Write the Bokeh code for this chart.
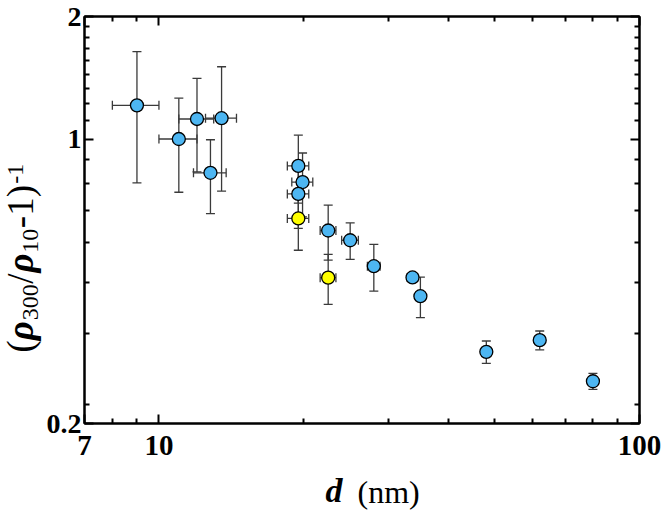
from bokeh.plotting import figure
from bokeh.layouts import row, column
from bokeh.models import (ColumnDataSource, Whisker, TeeHead, LogAxis, FixedTicker,
                          Label, Range1d)
from bokeh.embed import file_html
from bokeh.resources import INLINE

# ---- data ----
d_blue = [9.0, 11.0, 12.0, 13.5, 12.8, 19.5, 19.9, 19.5, 22.5, 25.0, 28.0, 33.7, 35.0, 48.0, 62.0, 80.0]
d_err_blue = [1.0, 1.0, 1.0, 1.0, 1.0, 1.0, 1.0, 1.0, 0.85, 1.0, 0.85, 0.85, 0.7, 0.0, 0.0, 0.0]
r_blue = [1.21, 1.0, 1.12, 1.125, 0.826, 0.859, 0.784, 0.733, 0.596, 0.564, 0.487, 0.457, 0.411, 0.300, 0.3205, 0.254]
r_err_blue = [0.43, 0.26, 0.29, 0.38, 0.17, 0.163, 0.14, 0.13, 0.092, 0.058, 0.064, 0.008, 0.047, 0.019, 0.017, 0.0115]

d_yellow = [19.5, 22.5]
d_err_yellow = [1.0, 0.85]
r_yellow = [0.638, 0.4565]
r_err_yellow = [0.105, 0.064]

x_major = [7, 10, 100]
x_major_labels = ["7", "10", "100"]
x_minor = [8, 9, 20, 30, 40, 50, 60, 70, 80, 90]
y_major = [0.2, 1, 2]
y_major_labels = ["0.2", "1", "2"]
y_minor = [1 - k / 9 for k in range(1, 8)] + [1 + k / 9 for k in range(1, 9)]

BLUE = "#4db6f2"
YELLOW = "#ffff00"
ERR = "#3a3a3a"
FONT = "Liberation Serif"

W_LEFT = 43
H_TOP = 470
H_BOTTOM = 43
FRAME_LEFT_PAGE = 81
FRAME_BOTTOM_PAGE = 423  # bottom of the plotting frame, page pixels

p = figure(width=666 - W_LEFT, height=H_TOP, x_axis_type="log", y_axis_type="log",
           x_range=Range1d(7, 100), y_range=Range1d(0.2, 2),
           output_backend="svg", toolbar_location=None,
           min_border_left=FRAME_LEFT_PAGE - W_LEFT, min_border_right=27, min_border_top=16,
           min_border_bottom=H_TOP - FRAME_BOTTOM_PAGE)
p.grid.visible = False
p.outline_line_color = "black"
p.outline_line_width = 2
p.background_fill_color = "white"
p.border_fill_color = "white"

xt = FixedTicker(ticks=x_major, minor_ticks=x_minor)
yt = FixedTicker(ticks=y_major, minor_ticks=y_minor)


def style_axis(ax, size="29px"):
    ax.axis_line_width = 2
    ax.axis_line_color = "black"
    ax.major_tick_in = 9
    ax.major_tick_out = 0
    ax.minor_tick_in = 5
    ax.minor_tick_out = 0
    ax.major_tick_line_width = 2
    ax.minor_tick_line_width = 2
    ax.major_tick_line_color = "black"
    ax.minor_tick_line_color = "black"
    ax.major_label_text_font = FONT
    ax.major_label_text_font_style = "bold"
    ax.major_label_text_font_size = size
    ax.major_label_text_color = "black"


p.xaxis.ticker = xt
p.yaxis.ticker = yt
p.xaxis.major_label_overrides = dict(zip(x_major, x_major_labels))
p.yaxis.major_label_overrides = dict(zip(y_major, y_major_labels))
style_axis(p.xaxis[0], "29px")
style_axis(p.yaxis[0], "28px")
p.xaxis.major_label_standoff = 12
p.yaxis.major_label_standoff = 3

top_ax = LogAxis(ticker=xt, major_label_overrides={v: "" for v in x_major})
right_ax = LogAxis(ticker=yt, major_label_overrides={v: "" for v in y_major})
style_axis(top_ax, "1px")
style_axis(right_ax, "1px")
p.add_layout(top_ax, "above")
p.add_layout(right_ax, "right")


def add_series(d, d_err, r, r_err, color):
    src = ColumnDataSource(dict(
        d=d, r=r,
        r_lo=[v - e for v, e in zip(r, r_err)],
        r_hi=[v + e for v, e in zip(r, r_err)],
    ))
    hx = [(dv, rv, de) for dv, rv, de in zip(d, r, d_err) if de > 0]
    hsrc = ColumnDataSource(dict(
        r=[h[1] for h in hx],
        d_lo=[h[0] - h[2] for h in hx],
        d_hi=[h[0] + h[2] for h in hx],
    ))
    for s, base, up, lo, dim in [(src, "d", "r_hi", "r_lo", "height"),
                                 (hsrc, "r", "d_hi", "d_lo", "width")]:
        p.add_layout(Whisker(source=s, base=base, upper=up, lower=lo, dimension=dim,
                             line_color=ERR, line_width=1.3,
                             upper_head=TeeHead(size=9, line_color=ERR, line_width=1.3),
                             lower_head=TeeHead(size=9, line_color=ERR, line_width=1.3)))
    p.scatter("d", "r", source=src, size=13, fill_color=color, line_color="black",
              line_width=1.3)


add_series(d_blue, d_err_blue, r_blue, r_err_blue, BLUE)
add_series(d_yellow, d_err_yellow, r_yellow, r_err_yellow, YELLOW)


def blank(width, height):
    f = figure(width=width, height=height, x_range=Range1d(0, 1), y_range=Range1d(0, 1),
               x_axis_location=None, y_axis_location=None, output_backend="svg",
               toolbar_location=None, min_border=0)
    f.grid.visible = False
    f.outline_line_color = None
    f.background_fill_color = "white"
    f.border_fill_color = "white"
    return f


# ---- y-axis title: (rho_300/rho_10-1)^-1, rotated, in a narrow panel ----
# (its frame is aligned with the main frame, so y is measured from page y=423)
left = blank(W_LEFT, H_TOP)
MAIN = 37
SUB = 24
base = 33            # main baseline, x inside the panel
mid = lambda b, s: b - 0.34 * s   # 'middle' anchor for a given baseline
pieces = [
    ("(", MAIN, "normal", 0, 0.333),
    ("ρ", MAIN, "bold italic", 0, 0.54),
    ("300", SUB, "normal", 5, 1.52),
    ("/", MAIN, "normal", 0, 0.3),
    ("ρ", MAIN, "bold italic", 0, 0.54),
    ("10", SUB, "normal", 5, 1.02),
    ("-1)", MAIN, "normal", 0, 1.2),
    ("-1", SUB, "normal", -10, 0.833),
]
pos = FRAME_BOTTOM_PAGE - 352
for txt, size, style, shift, w in pieces:
    left.add_layout(Label(x=mid(base + shift, size), y=pos, x_units="screen", y_units="screen",
                          text=txt, angle=1.5707963, text_font=FONT,
                          text_font_style=style, text_font_size=f"{size}px",
                          text_align="left", text_baseline="middle",
                          text_color="black"))
    pos += w * size

# ---- x-axis title: "d (nm)" in a panel below ----
bottom = blank(666, H_BOTTOM)
x_base = 502         # baseline, page y
bottom.add_layout(Label(x=325, y=513 - mid(x_base, 34), x_units="screen", y_units="screen",
                        text="d", text_font=FONT, text_font_style="bold italic",
                        text_font_size="34px", text_align="left", text_baseline="middle",
                        text_color="black"))
bottom.add_layout(Label(x=357, y=513 - mid(x_base, 32), x_units="screen", y_units="screen",
                        text="(nm)", text_font=FONT, text_font_style="normal",
                        text_font_size="32px", text_align="left", text_baseline="middle",
                        text_color="black"))

layout = column(row(left, p), bottom)
open("out.html", "w").write(file_html(layout, INLINE))
